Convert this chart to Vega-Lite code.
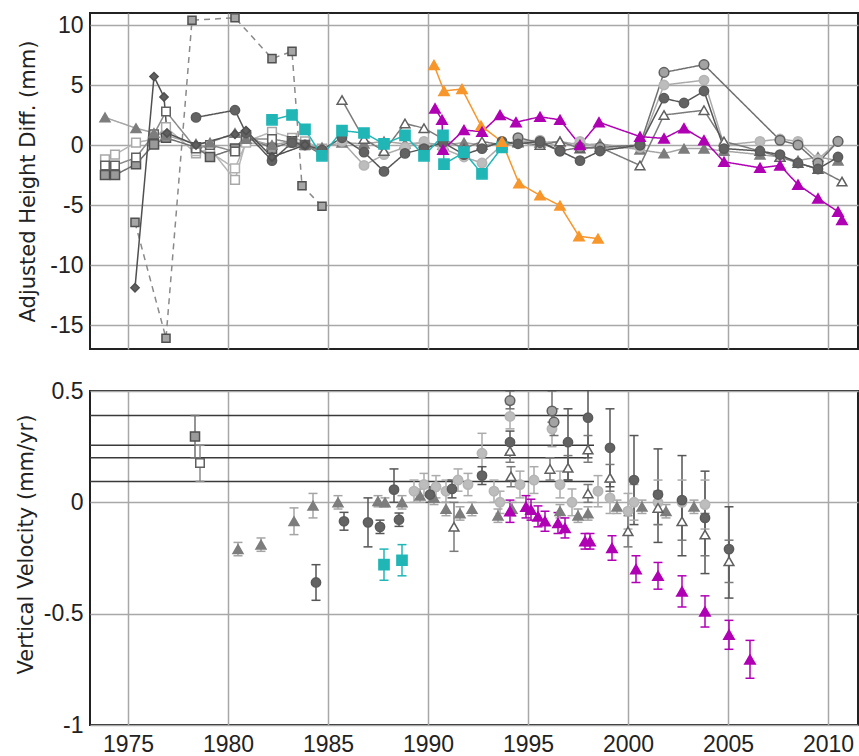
{
  "$schema": "https://vega.github.io/schema/vega-lite/v6.json",
  "padding": {"left": 14, "top": 12, "right": 0, "bottom": 0},
  "background": "white",
  "config": {
    "view": {"stroke": "#222", "strokeWidth": 2},
    "font": "Liberation Sans",
    "axis": {"labelFont": "Liberation Sans", "titleFont": "DejaVu Sans", "labelFontSize": 23, "titleFontSize": 21, "titleFontWeight": "normal", "labelColor": "#222", "titleColor": "#222", "gridColor": "#a8a8a8", "gridWidth": 1.5, "ticks": false, "domain": false}
  },
  "spacing": 29,
  "datasets": {
    "top": [
      {"s":"A","t":1975.35,"v":-6.45},{"s":"A","t":1976.9,"v":-16.1},{"s":"A","t":1978.2,"v":10.4},{"s":"A","t":1980.35,"v":10.6},{"s":"A","t":1982.2,"v":7.2},{"s":"A","t":1983.2,"v":7.8},{"s":"A","t":1983.7,"v":-3.4},{"s":"A","t":1984.7,"v":-5.1},
      {"s":"D","t":1973.85,"v":-1.2},{"s":"D","t":1974.35,"v":-0.8},{"s":"D","t":1975.4,"v":0.2},{"s":"D","t":1976.3,"v":0.5},{"s":"D","t":1976.9,"v":1.5},{"s":"D","t":1978.4,"v":-0.7},{"s":"D","t":1979.1,"v":-0.3},{"s":"D","t":1980.35,"v":-2.9},{"s":"D","t":1980.9,"v":0.3},{"s":"D","t":1982.2,"v":1.1},{"s":"D","t":1983.2,"v":0.6},{"s":"D","t":1983.85,"v":0.3},{"s":"D","t":1984.7,"v":-0.3},
      {"s":"N","t":1978.4,"v":-0.5},{"s":"N","t":1979.1,"v":-0.6},{"s":"N","t":1980.35,"v":-1.95},{"s":"N","t":1980.9,"v":0.2},{"s":"N","t":1982.2,"v":0.0},
      {"s":"E","t":1973.85,"v":-2.5},{"s":"E","t":1974.35,"v":-2.5},{"s":"E","t":1975.4,"v":-1.6},{"s":"E","t":1976.3,"v":0.05},{"s":"E","t":1976.9,"v":0.6},{"s":"E","t":1978.4,"v":-0.2},{"s":"E","t":1979.1,"v":-1.0},{"s":"E","t":1980.35,"v":-0.3},{"s":"E","t":1980.9,"v":0.8},{"s":"E","t":1982.2,"v":-0.3},{"s":"E","t":1983.2,"v":0.3},{"s":"E","t":1983.85,"v":0.0},{"s":"E","t":1984.7,"v":-0.8},
      {"s":"C","t":1973.85,"v":-1.7},{"s":"C","t":1974.35,"v":-1.7},{"s":"C","t":1975.4,"v":-1.05},{"s":"C","t":1976.3,"v":0.9},{"s":"C","t":1976.9,"v":2.8},{"s":"C","t":1978.4,"v":-0.3},{"s":"C","t":1979.1,"v":0.0},{"s":"C","t":1980.35,"v":-0.55},{"s":"C","t":1980.9,"v":0.5},{"s":"C","t":1982.2,"v":0.5},{"s":"C","t":1983.2,"v":0.2},{"s":"C","t":1983.85,"v":0.0},{"s":"C","t":1984.7,"v":-0.6},
      {"s":"J","t":1973.85,"v":2.3},{"s":"J","t":1975.4,"v":1.4},{"s":"J","t":1976.3,"v":1.0},{"s":"J","t":1976.9,"v":0.8},{"s":"J","t":1978.4,"v":0.1},{"s":"J","t":1979.1,"v":0.2},{"s":"J","t":1980.35,"v":1.0},{"s":"J","t":1980.9,"v":0.5},{"s":"J","t":1982.2,"v":0.0},{"s":"J","t":1983.2,"v":0.3},{"s":"J","t":1983.85,"v":0.0},{"s":"J","t":1984.7,"v":-0.2},{"s":"J","t":1985.7,"v":0.2},{"s":"J","t":1986.8,"v":0.1},{"s":"J","t":1987.8,"v":0.3},{"s":"J","t":1988.85,"v":0.1},{"s":"J","t":1989.8,"v":0.2},{"s":"J","t":1990.75,"v":0.0},{"s":"J","t":1991.8,"v":0.2},{"s":"J","t":1992.7,"v":0.0},{"s":"J","t":1993.7,"v":0.1},{"s":"J","t":1994.5,"v":0.3},{"s":"J","t":1995.6,"v":0.2},{"s":"J","t":1996.6,"v":0.3},{"s":"J","t":1997.6,"v":0.0},{"s":"J","t":1998.6,"v":0.1},{"s":"J","t":2000.6,"v":-0.4},{"s":"J","t":2001.8,"v":-0.7},{"s":"J","t":2002.8,"v":-0.3},{"s":"J","t":2003.8,"v":-0.3},{"s":"J","t":2004.8,"v":-0.5},{"s":"J","t":2006.6,"v":-0.8},{"s":"J","t":2007.6,"v":-1.0},{"s":"J","t":2008.5,"v":-1.3},{"s":"J","t":2009.5,"v":-1.0},{"s":"J","t":2010.5,"v":-1.3},
      {"s":"G","t":1985.7,"v":0.3},{"s":"G","t":1986.8,"v":-1.7},{"s":"G","t":1987.8,"v":-0.8},{"s":"G","t":1988.85,"v":-0.2},{"s":"G","t":1989.8,"v":0.3},{"s":"G","t":1990.75,"v":-0.3},{"s":"G","t":1991.8,"v":-1.0},{"s":"G","t":1992.7,"v":-1.5},{"s":"G","t":1993.7,"v":0.0},{"s":"G","t":1994.5,"v":0.3},{"s":"G","t":1995.6,"v":0.4},{"s":"G","t":1996.6,"v":-0.2},{"s":"G","t":1997.6,"v":0.3},{"s":"G","t":1998.6,"v":-0.3},{"s":"G","t":2000.6,"v":-0.2},{"s":"G","t":2001.8,"v":5.0},{"s":"G","t":2003.8,"v":5.4},{"s":"G","t":2004.8,"v":0.0},{"s":"G","t":2006.6,"v":0.3},{"s":"G","t":2007.6,"v":0.5},{"s":"G","t":2008.5,"v":0.3},{"s":"G","t":2009.5,"v":-1.2},{"s":"G","t":2010.5,"v":0.3},
      {"s":"I","t":1985.7,"v":3.75},{"s":"I","t":1986.8,"v":0.5},{"s":"I","t":1987.8,"v":-0.5},{"s":"I","t":1988.85,"v":1.8},{"s":"I","t":1989.8,"v":1.4},{"s":"I","t":1990.75,"v":0.5},{"s":"I","t":1991.8,"v":-0.3},{"s":"I","t":1992.7,"v":0.3},{"s":"I","t":1993.7,"v":0.0},{"s":"I","t":1994.5,"v":0.2},{"s":"I","t":1995.6,"v":0.0},{"s":"I","t":1996.6,"v":0.3},{"s":"I","t":1997.6,"v":-0.3},{"s":"I","t":1998.6,"v":-0.2},{"s":"I","t":2000.6,"v":-1.7},{"s":"I","t":2001.8,"v":2.5},{"s":"I","t":2003.8,"v":2.9},{"s":"I","t":2004.8,"v":0.3},{"s":"I","t":2006.6,"v":-0.5},{"s":"I","t":2007.6,"v":-1.0},{"s":"I","t":2008.5,"v":-1.5},{"s":"I","t":2009.5,"v":-2.0},{"s":"I","t":2010.7,"v":-3.05},
      {"s":"H","t":1994.5,"v":0.6},{"s":"H","t":1995.6,"v":0.2},{"s":"H","t":1996.6,"v":-0.5},{"s":"H","t":1997.6,"v":-0.2},{"s":"H","t":1998.6,"v":-0.2},{"s":"H","t":2000.6,"v":0.0},{"s":"H","t":2001.8,"v":6.05},{"s":"H","t":2003.8,"v":6.7},{"s":"H","t":2007.6,"v":0.4},{"s":"H","t":2008.5,"v":0.0},{"s":"H","t":2009.5,"v":-1.5},{"s":"H","t":2010.5,"v":0.3},
      {"s":"F","t":1978.4,"v":2.3},{"s":"F","t":1980.35,"v":2.9},{"s":"F","t":1980.9,"v":1.0},{"s":"F","t":1982.2,"v":-1.3},{"s":"F","t":1983.2,"v":0.2},{"s":"F","t":1983.85,"v":0.0},{"s":"F","t":1984.7,"v":-0.4},{"s":"F","t":1985.7,"v":0.6},{"s":"F","t":1986.8,"v":-0.6},{"s":"F","t":1987.8,"v":-2.2},{"s":"F","t":1988.85,"v":-0.7},{"s":"F","t":1989.8,"v":-0.3},{"s":"F","t":1990.75,"v":0.2},{"s":"F","t":1991.8,"v":-0.8},{"s":"F","t":1992.7,"v":-0.3},{"s":"F","t":1993.7,"v":0.3},{"s":"F","t":1994.5,"v":0.1},{"s":"F","t":1995.6,"v":0.3},{"s":"F","t":1996.6,"v":-0.5},{"s":"F","t":1997.6,"v":-1.3},{"s":"F","t":1998.6,"v":-0.5},{"s":"F","t":2000.6,"v":0.0},{"s":"F","t":2001.8,"v":3.9},{"s":"F","t":2002.8,"v":3.5},{"s":"F","t":2003.8,"v":4.5},{"s":"F","t":2004.8,"v":-0.3},{"s":"F","t":2006.6,"v":-0.5},{"s":"F","t":2007.6,"v":-0.8},{"s":"F","t":2008.5,"v":-1.5},{"s":"F","t":2009.5,"v":-2.0},{"s":"F","t":2010.5,"v":-1.0},
      {"s":"B","t":1975.35,"v":-11.9},{"s":"B","t":1976.3,"v":5.7},{"s":"B","t":1976.8,"v":4.0},{"s":"B","t":1976.95,"v":1.0},{"s":"B","t":1978.4,"v":0.0},{"s":"B","t":1980.35,"v":0.9},{"s":"B","t":1980.9,"v":1.2},{"s":"B","t":1982.2,"v":-1.0},{"s":"B","t":1983.85,"v":0.0},
      {"s":"K","t":1982.2,"v":2.1},{"s":"K","t":1983.2,"v":2.5},{"s":"K","t":1983.85,"v":1.3},{"s":"K","t":1984.7,"v":-0.9},{"s":"K","t":1985.7,"v":1.2},{"s":"K","t":1986.8,"v":1.0},{"s":"K","t":1987.8,"v":0.1},{"s":"K","t":1988.85,"v":0.8},{"s":"K","t":1989.8,"v":-0.9},{"s":"K","t":1990.75,"v":0.8},{"s":"K","t":1990.8,"v":-1.6},{"s":"K","t":1991.8,"v":-0.6},{"s":"K","t":1992.7,"v":-2.4},{"s":"K","t":1993.7,"v":-0.2},
      {"s":"L","t":1990.3,"v":6.67},{"s":"L","t":1990.8,"v":4.5},{"s":"L","t":1991.7,"v":4.67},{"s":"L","t":1992.65,"v":1.6},{"s":"L","t":1993.7,"v":0.27},{"s":"L","t":1994.55,"v":-3.2},{"s":"L","t":1995.6,"v":-4.2},{"s":"L","t":1996.6,"v":-5.05},{"s":"L","t":1997.55,"v":-7.6},{"s":"L","t":1998.5,"v":-7.8},
      {"s":"M","t":1990.35,"v":3.05},{"s":"M","t":1990.7,"v":2.1},{"s":"M","t":1990.75,"v":-0.4},{"s":"M","t":1991.8,"v":1.25},{"s":"M","t":1992.7,"v":1.1},{"s":"M","t":1993.6,"v":2.5},{"s":"M","t":1994.4,"v":1.9},{"s":"M","t":1995.6,"v":2.35},{"s":"M","t":1996.6,"v":2.1},{"s":"M","t":1997.6,"v":0.0},{"s":"M","t":1998.55,"v":1.9},{"s":"M","t":2000.6,"v":0.7},{"s":"M","t":2001.8,"v":0.55},{"s":"M","t":2002.8,"v":1.4},{"s":"M","t":2003.8,"v":0.4},{"s":"M","t":2004.8,"v":-1.4},{"s":"M","t":2006.6,"v":-1.9},{"s":"M","t":2007.6,"v":-1.7},{"s":"M","t":2008.5,"v":-3.3},{"s":"M","t":2009.5,"v":-4.45},{"s":"M","t":2010.5,"v":-5.55},{"s":"M","t":2010.7,"v":-6.25}
    ],
    "bot": [
      {"s":"E","t":1978.35,"v":0.296,"lo":0.2,"hi":0.39},
      {"s":"C","t":1978.6,"v":0.177,"lo":0.094,"hi":0.256},
      {"s":"J","t":1980.5,"v":-0.21,"lo":-0.24,"hi":-0.18},{"s":"J","t":1981.65,"v":-0.19,"lo":-0.22,"hi":-0.16},{"s":"J","t":1983.3,"v":-0.085,"lo":-0.145,"hi":-0.025},{"s":"J","t":1984.25,"v":-0.015,"lo":-0.07,"hi":0.04},{"s":"J","t":1985.5,"v":0.0,"lo":-0.03,"hi":0.03},{"s":"J","t":1987.5,"v":0.005,"lo":-0.02,"hi":0.03},{"s":"J","t":1987.85,"v":0.0,"lo":-0.02,"hi":0.02},{"s":"J","t":1988.7,"v":0.0,"lo":-0.03,"hi":0.03},{"s":"J","t":1989.6,"v":0.03,"lo":0.0,"hi":0.06},{"s":"J","t":1990.3,"v":0.02,"lo":-0.01,"hi":0.05},{"s":"J","t":1990.9,"v":-0.03,"lo":-0.06,"hi":0.0},{"s":"J","t":1991.6,"v":-0.05,"lo":-0.08,"hi":-0.02},{"s":"J","t":1992.2,"v":-0.03,"lo":-0.06,"hi":0.0},{"s":"J","t":1993.5,"v":-0.06,"lo":-0.09,"hi":-0.03},{"s":"J","t":1994.2,"v":-0.03,"lo":-0.06,"hi":0.0},{"s":"J","t":1996.6,"v":-0.04,"lo":-0.07,"hi":-0.01},{"s":"J","t":1997.5,"v":-0.06,"lo":-0.09,"hi":-0.03},{"s":"J","t":1998.0,"v":-0.05,"lo":-0.08,"hi":-0.02},{"s":"J","t":1999.45,"v":-0.02,"lo":-0.05,"hi":0.01},{"s":"J","t":2000.7,"v":-0.02,"lo":-0.05,"hi":0.01},{"s":"J","t":2001.9,"v":-0.04,"lo":-0.07,"hi":-0.01},{"s":"J","t":2003.3,"v":-0.02,"lo":-0.05,"hi":0.01},
      {"s":"G","t":1989.3,"v":0.05,"lo":0.0,"hi":0.1},{"s":"G","t":1989.8,"v":0.08,"lo":0.03,"hi":0.13},{"s":"G","t":1990.4,"v":0.07,"lo":0.02,"hi":0.12},{"s":"G","t":1990.9,"v":0.05,"lo":0.0,"hi":0.1},{"s":"G","t":1991.5,"v":0.1,"lo":0.05,"hi":0.15},{"s":"G","t":1992.0,"v":0.08,"lo":0.03,"hi":0.13},{"s":"G","t":1992.7,"v":0.22,"lo":0.13,"hi":0.31},{"s":"G","t":1993.3,"v":0.05,"lo":0.0,"hi":0.1},{"s":"G","t":1993.6,"v":0.0,"lo":-0.05,"hi":0.05},{"s":"G","t":1994.1,"v":0.386,"lo":0.33,"hi":0.44},{"s":"G","t":1994.6,"v":0.08,"lo":0.02,"hi":0.14},{"s":"G","t":1995.3,"v":0.1,"lo":0.04,"hi":0.16},{"s":"G","t":1996.2,"v":0.33,"lo":0.25,"hi":0.41},{"s":"G","t":1996.6,"v":0.08,"lo":0.02,"hi":0.14},{"s":"G","t":1997.2,"v":0.0,"lo":-0.06,"hi":0.06},{"s":"G","t":1998.5,"v":0.05,"lo":-0.02,"hi":0.12},{"s":"G","t":1999.1,"v":0.02,"lo":-0.05,"hi":0.09},{"s":"G","t":2000.0,"v":-0.04,"lo":-0.12,"hi":0.04},{"s":"G","t":2000.3,"v":0.0,"lo":-0.08,"hi":0.08},{"s":"G","t":2001.5,"v":0.0,"lo":-0.1,"hi":0.1},{"s":"G","t":2002.7,"v":0.0,"lo":-0.1,"hi":0.1},{"s":"G","t":2003.85,"v":-0.01,"lo":-0.12,"hi":0.1},
      {"s":"H","t":1994.1,"v":0.457,"lo":0.42,"hi":0.5},{"s":"H","t":1996.2,"v":0.41,"lo":0.36,"hi":0.5},{"s":"H","t":1996.3,"v":0.36,"lo":0.3,"hi":0.42},
      {"s":"I","t":1991.3,"v":-0.11,"lo":-0.22,"hi":0.0},{"s":"I","t":1994.1,"v":0.23,"lo":0.18,"hi":0.28},{"s":"I","t":1994.15,"v":0.117,"lo":0.07,"hi":0.16},{"s":"I","t":1996.1,"v":0.15,"lo":0.1,"hi":0.2},{"s":"I","t":1997.0,"v":0.155,"lo":0.1,"hi":0.21},{"s":"I","t":1998.0,"v":0.237,"lo":0.18,"hi":0.3},{"s":"I","t":1998.0,"v":0.04,"lo":0.0,"hi":0.08},{"s":"I","t":1999.1,"v":0.11,"lo":0.05,"hi":0.17},{"s":"I","t":2000.0,"v":-0.13,"lo":-0.2,"hi":-0.06},{"s":"I","t":2001.5,"v":-0.025,"lo":-0.1,"hi":0.05},{"s":"I","t":2002.7,"v":-0.085,"lo":-0.17,"hi":0.0},{"s":"I","t":2003.85,"v":-0.145,"lo":-0.24,"hi":-0.05},{"s":"I","t":2005.05,"v":-0.265,"lo":-0.36,"hi":-0.17},
      {"s":"F","t":1984.4,"v":-0.36,"lo":-0.44,"hi":-0.28},{"s":"F","t":1985.8,"v":-0.085,"lo":-0.125,"hi":-0.045},{"s":"F","t":1987.0,"v":-0.09,"lo":-0.2,"hi":0.02},{"s":"F","t":1987.6,"v":-0.11,"lo":-0.14,"hi":-0.08},{"s":"F","t":1988.3,"v":0.057,"lo":0.0,"hi":0.15},{"s":"F","t":1988.55,"v":-0.078,"lo":-0.108,"hi":-0.048},{"s":"F","t":1990.1,"v":0.035,"lo":0.0,"hi":0.07},{"s":"F","t":1991.2,"v":0.06,"lo":0.02,"hi":0.1},{"s":"F","t":1992.7,"v":0.12,"lo":0.08,"hi":0.16},{"s":"F","t":1994.1,"v":0.27,"lo":0.22,"hi":0.32},{"s":"F","t":1997.0,"v":0.27,"lo":0.1,"hi":0.42},{"s":"F","t":1998.0,"v":0.38,"lo":0.2,"hi":0.56},{"s":"F","t":1999.1,"v":0.245,"lo":0.07,"hi":0.42},{"s":"F","t":2000.3,"v":0.1,"lo":-0.1,"hi":0.3},{"s":"F","t":2001.5,"v":0.035,"lo":-0.18,"hi":0.24},{"s":"F","t":2002.7,"v":0.01,"lo":-0.24,"hi":0.21},{"s":"F","t":2003.85,"v":-0.07,"lo":-0.32,"hi":0.14},{"s":"F","t":2005.05,"v":-0.21,"lo":-0.43,"hi":-0.02},
      {"s":"K","t":1987.8,"v":-0.28,"lo":-0.35,"hi":-0.21},{"s":"K","t":1988.7,"v":-0.26,"lo":-0.33,"hi":-0.19},
      {"s":"M","t":1994.1,"v":-0.04,"lo":-0.09,"hi":0.01},{"s":"M","t":1994.9,"v":-0.02,"lo":-0.07,"hi":0.03},{"s":"M","t":1995.15,"v":-0.033,"lo":-0.08,"hi":0.014},{"s":"M","t":1995.5,"v":-0.063,"lo":-0.11,"hi":-0.016},{"s":"M","t":1995.85,"v":-0.085,"lo":-0.13,"hi":-0.04},{"s":"M","t":1996.5,"v":-0.093,"lo":-0.14,"hi":-0.046},{"s":"M","t":1996.85,"v":-0.115,"lo":-0.16,"hi":-0.07},{"s":"M","t":1997.85,"v":-0.175,"lo":-0.21,"hi":-0.14},{"s":"M","t":1998.1,"v":-0.175,"lo":-0.21,"hi":-0.14},{"s":"M","t":1999.2,"v":-0.205,"lo":-0.26,"hi":-0.15},{"s":"M","t":2000.4,"v":-0.3,"lo":-0.36,"hi":-0.24},{"s":"M","t":2001.5,"v":-0.33,"lo":-0.39,"hi":-0.27},{"s":"M","t":2002.7,"v":-0.4,"lo":-0.47,"hi":-0.33},{"s":"M","t":2003.85,"v":-0.49,"lo":-0.56,"hi":-0.42},{"s":"M","t":2005.05,"v":-0.594,"lo":-0.66,"hi":-0.53},{"s":"M","t":2006.1,"v":-0.706,"lo":-0.79,"hi":-0.62}
    ],
    "hl": [
      {"x1":1973.1,"x2":1998.1,"y":0.39},
      {"x1":1973.1,"x2":1998.3,"y":0.256},
      {"x1":1973.1,"x2":1997.9,"y":0.2},
      {"x1":1973.1,"x2":1998.3,"y":0.094}
    ]
  },
  "vconcat": [
    {
      "width": 768,
      "height": 336,
      "data": {"name": "top"},
      "layer": [
        {
          "mark": {"type": "line", "strokeWidth": 1.5, "clip": true},
          "encoding": {
            "x": {"field": "t", "type": "quantitative", "scale": {"domain": [1973.1, 2011.5], "nice": false, "zero": false}, "axis": {"title": null, "labels": false, "grid": true, "values": [1975, 1980, 1985, 1990, 1995, 2000, 2005, 2010]}},
            "y": {"field": "v", "type": "quantitative", "scale": {"domain": [-17, 11], "nice": false, "zero": false}, "axis": {"title": "Adjusted Height Diff. (mm)", "grid": true, "values": [10, 5, 0, -5, -10, -15], "labelExpr": "'' + datum.value", "labelPadding": 7, "titleX": -56, "titleY": 168, "titleBaseline": "alphabetic"}},
            "color": {"field": "s", "type": "nominal", "legend": null, "scale": {"domain": ["A","B","C","D","N","E","F","G","H","I","J","K","L","M"], "range": ["#8a8a8a","#505050","#8a8a8a","#b5b5b5","#b5b5b5","#707070","#555555","#ababab","#707070","#7a7a7a","#a5a5a5","#21b6b6","#f7962b","#b000b4"]}},
            "strokeDash": {"field": "s", "type": "nominal", "legend": null, "scale": {"domain": ["A","B","C","D","N","E","F","G","H","I","J","K","L","M"], "range": [[6,5],[1,0],[1,0],[1,0],[1,0],[1,0],[1,0],[1,0],[1,0],[1,0],[1,0],[1,0],[1,0],[1,0]]}}
          }
        },
        {
          "mark": {"type": "point", "filled": true, "strokeWidth": 1.5, "opacity": 1, "clip": true},
          "encoding": {
            "x": {"field": "t", "type": "quantitative"},
            "y": {"field": "v", "type": "quantitative"},
            "shape": {"field": "s", "type": "nominal", "legend": null, "scale": {"domain": ["A","B","C","D","N","E","F","G","H","I","J","K","L","M"], "range": ["square","diamond","square","square","square","square","circle","circle","circle","triangle-up","triangle-up","square","triangle-up","triangle-up"]}},
            "fill": {"field": "s", "type": "nominal", "legend": null, "scale": {"domain": ["A","B","C","D","N","E","F","G","H","I","J","K","L","M"], "range": ["#a6a6a6","#606060","#ffffff","#ffffff","#ffffff","#9a9a9a","#636363","#bdbdbd","#a3a3a3","#ffffff","#7d7d7d","#21b6b6","#f7962b","#b000b4"]}},
            "stroke": {"field": "s", "type": "nominal", "legend": null, "scale": {"domain": ["A","B","C","D","N","E","F","G","H","I","J","K","L","M"], "range": ["#505050","#505050","#606060","#a8a8a8","#b0b0b0","#505050","#5a5a5a","#b5b5b5","#606060","#606060","#7d7d7d","#21b6b6","#f7962b","#b000b4"]}},
            "size": {"field": "s", "type": "nominal", "legend": null, "scale": {"domain": ["A","B","C","D","N","E","F","G","H","I","J","K","L","M"], "range": [65,110,85,85,85,85,140,140,140,130,75,80,190,140]}}
          }
        }
      ]
    },
    {
      "width": 768,
      "height": 334,
      "layer": [
        {
          "data": {"name": "hl"},
          "mark": {"type": "rule", "color": "#3a3a3a", "strokeWidth": 1.5},
          "encoding": {
            "x": {"field": "x1", "type": "quantitative", "scale": {"domain": [1973.1, 2011.5], "nice": false, "zero": false}, "axis": {"title": null, "grid": true, "values": [1975, 1980, 1985, 1990, 1995, 2000, 2005, 2010], "labelExpr": "'' + datum.value", "labelPadding": 8}},
            "x2": {"field": "x2"},
            "y": {"field": "y", "type": "quantitative", "scale": {"domain": [-1, 0.5], "nice": false, "zero": false}, "axis": {"title": "Vertical Velocity (mm/yr)", "grid": true, "values": [0.5, 0, -0.5, -1], "labelExpr": "'' + datum.value", "labelPadding": 7, "titleX": -58, "titleY": 153, "titleBaseline": "alphabetic"}}
          }
        },
        {
          "data": {"name": "bot"},
          "mark": {"type": "rule", "strokeWidth": 1.5, "clip": true},
          "encoding": {
            "x": {"field": "t", "type": "quantitative"},
            "y": {"field": "lo", "type": "quantitative"},
            "y2": {"field": "hi"},
            "color": {"field": "s", "type": "nominal", "legend": null}
          }
        },
        {
          "data": {"name": "bot"},
          "mark": {"type": "tick", "orient": "horizontal", "size": 9, "thickness": 1.5, "opacity": 1, "clip": true},
          "encoding": {
            "x": {"field": "t", "type": "quantitative"},
            "y": {"field": "lo", "type": "quantitative"},
            "color": {"field": "s", "type": "nominal", "legend": null}
          }
        },
        {
          "data": {"name": "bot"},
          "mark": {"type": "tick", "orient": "horizontal", "size": 9, "thickness": 1.5, "opacity": 1, "clip": true},
          "encoding": {
            "x": {"field": "t", "type": "quantitative"},
            "y": {"field": "hi", "type": "quantitative"},
            "color": {"field": "s", "type": "nominal", "legend": null}
          }
        },
        {
          "data": {"name": "bot"},
          "mark": {"type": "point", "filled": true, "strokeWidth": 1.5, "opacity": 1, "clip": true},
          "encoding": {
            "x": {"field": "t", "type": "quantitative"},
            "y": {"field": "v", "type": "quantitative"},
            "shape": {"field": "s", "type": "nominal", "legend": null},
            "fill": {"field": "s", "type": "nominal", "legend": null},
            "stroke": {"field": "s", "type": "nominal", "legend": null},
            "size": {"field": "s", "type": "nominal", "legend": null}
          }
        }
      ]
    }
  ]
}
